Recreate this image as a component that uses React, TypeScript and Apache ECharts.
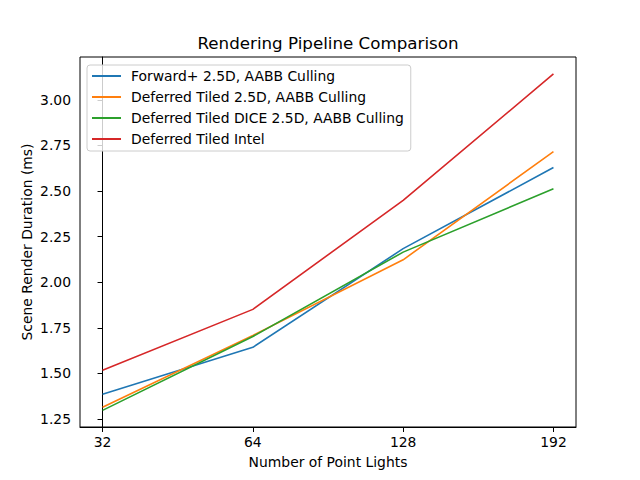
import React, { useEffect, useRef } from "react";
import * as echarts from "echarts";

const lightCounts = ["32", "64", "128", "192"];
const xPositions = [0, 1, 2, 3];
const yTicks = [1.25, 1.5, 1.75, 2.0, 2.25, 2.5, 2.75, 3.0];

const forwardPlus = [1.385, 1.643, 2.184, 2.629];
const deferredTiled = [1.314, 1.708, 2.123, 2.716];
const deferredDice = [1.297, 1.702, 2.165, 2.512];
const deferredIntel = [1.517, 1.851, 2.449, 3.142];

const seriesNames = [
  "Forward+ 2.5D, AABB Culling",
  "Deferred Tiled 2.5D, AABB Culling",
  "Deferred Tiled DICE 2.5D, AABB Culling",
  "Deferred Tiled Intel",
];
const seriesValues = [forwardPlus, deferredTiled, deferredDice, deferredIntel];
const colors = ["#1f77b4", "#ff7f0e", "#2ca02c", "#d62728"];

export default function App() {
  const ref = useRef<HTMLDivElement>(null);
  useEffect(() => {
    if (!ref.current) return;
    const chart = echarts.init(ref.current, null, { renderer: "svg" });
    const font = "DejaVu Sans";
    chart.setOption({
      animation: false,
      backgroundColor: "#ffffff",
      graphic: [
        {
          type: "text",
          x: 328,
          y: 43,
          style: {
            text: "Rendering Pipeline Comparison",
            fontFamily: font,
            fontSize: 16.7,
            fill: "#000",
            textAlign: "center",
            textVerticalAlign: "middle",
          },
        },
        {
          type: "text",
          x: 27,
          y: 242,
          rotation: Math.PI / 2,
          style: {
            text: "Scene Render Duration (ms)",
            fontFamily: font,
            fontSize: 13.9,
            fill: "#000",
            textAlign: "center",
            textVerticalAlign: "middle",
          },
        },
      ],
      legend: {
        orient: "vertical",
        left: 87,
        top: 65,
        padding: [4, 7, 5, 5],
        itemWidth: 29,
        itemHeight: 2,
        itemGap: 7,
        icon: "rect",
        borderColor: "#cccccc",
        borderWidth: 1,
        borderRadius: 3,
        backgroundColor: "rgba(255,255,255,0.8)",
        textStyle: { fontFamily: font, fontSize: 13.9, color: "#000", padding: [0, 0, 0, 5] },
        data: seriesNames,
      },
      grid: {
        left: 80,
        right: 64,
        top: 57,
        bottom: 53,
        show: true,
        borderColor: "#000",
        borderWidth: 1,
        backgroundColor: "transparent",
      },
      xAxis: {
        type: "value",
        min: -0.15,
        max: 3.15,
        name: "Number of Point Lights",
        nameLocation: "middle",
        nameGap: 28,
        nameTextStyle: { fontFamily: font, fontSize: 13.9, color: "#000" },
        axisLine: { show: true, lineStyle: { color: "#000", width: 1 } },
        axisTick: { show: true, length: 5, lineStyle: { color: "#000" }, customValues: xPositions },
        axisLabel: {
          fontFamily: font,
          fontSize: 13.9,
          color: "#000",
          margin: 8,
          customValues: xPositions,
          formatter: (v: number) => lightCounts[Math.round(v)] ?? "",
        },
        splitLine: { show: false },
      },
      yAxis: {
        type: "value",
        min: 1.206,
        max: 3.235,
        axisLine: { show: true, lineStyle: { color: "#000", width: 1 } },
        axisTick: { show: true, length: 5, lineStyle: { color: "#000" }, customValues: yTicks },
        axisLabel: {
          fontFamily: font,
          fontSize: 13.9,
          color: "#000",
          margin: 9,
          customValues: yTicks,
          formatter: (v: number) => v.toFixed(2),
        },
        splitLine: { show: false },
      },
      series: seriesNames.map((name, i) => ({
        name,
        type: "line",
        data: seriesValues[i].map((v, j) => [xPositions[j], v]),
        symbol: "none",
        lineStyle: { color: colors[i], width: 1.6 },
        itemStyle: { color: colors[i] },
      })),
    });
    return () => chart.dispose();
  }, []);
  return <div ref={ref} style={{ width: 640, height: 480, position: "absolute", left: 0, top: 0 }} />;
}
